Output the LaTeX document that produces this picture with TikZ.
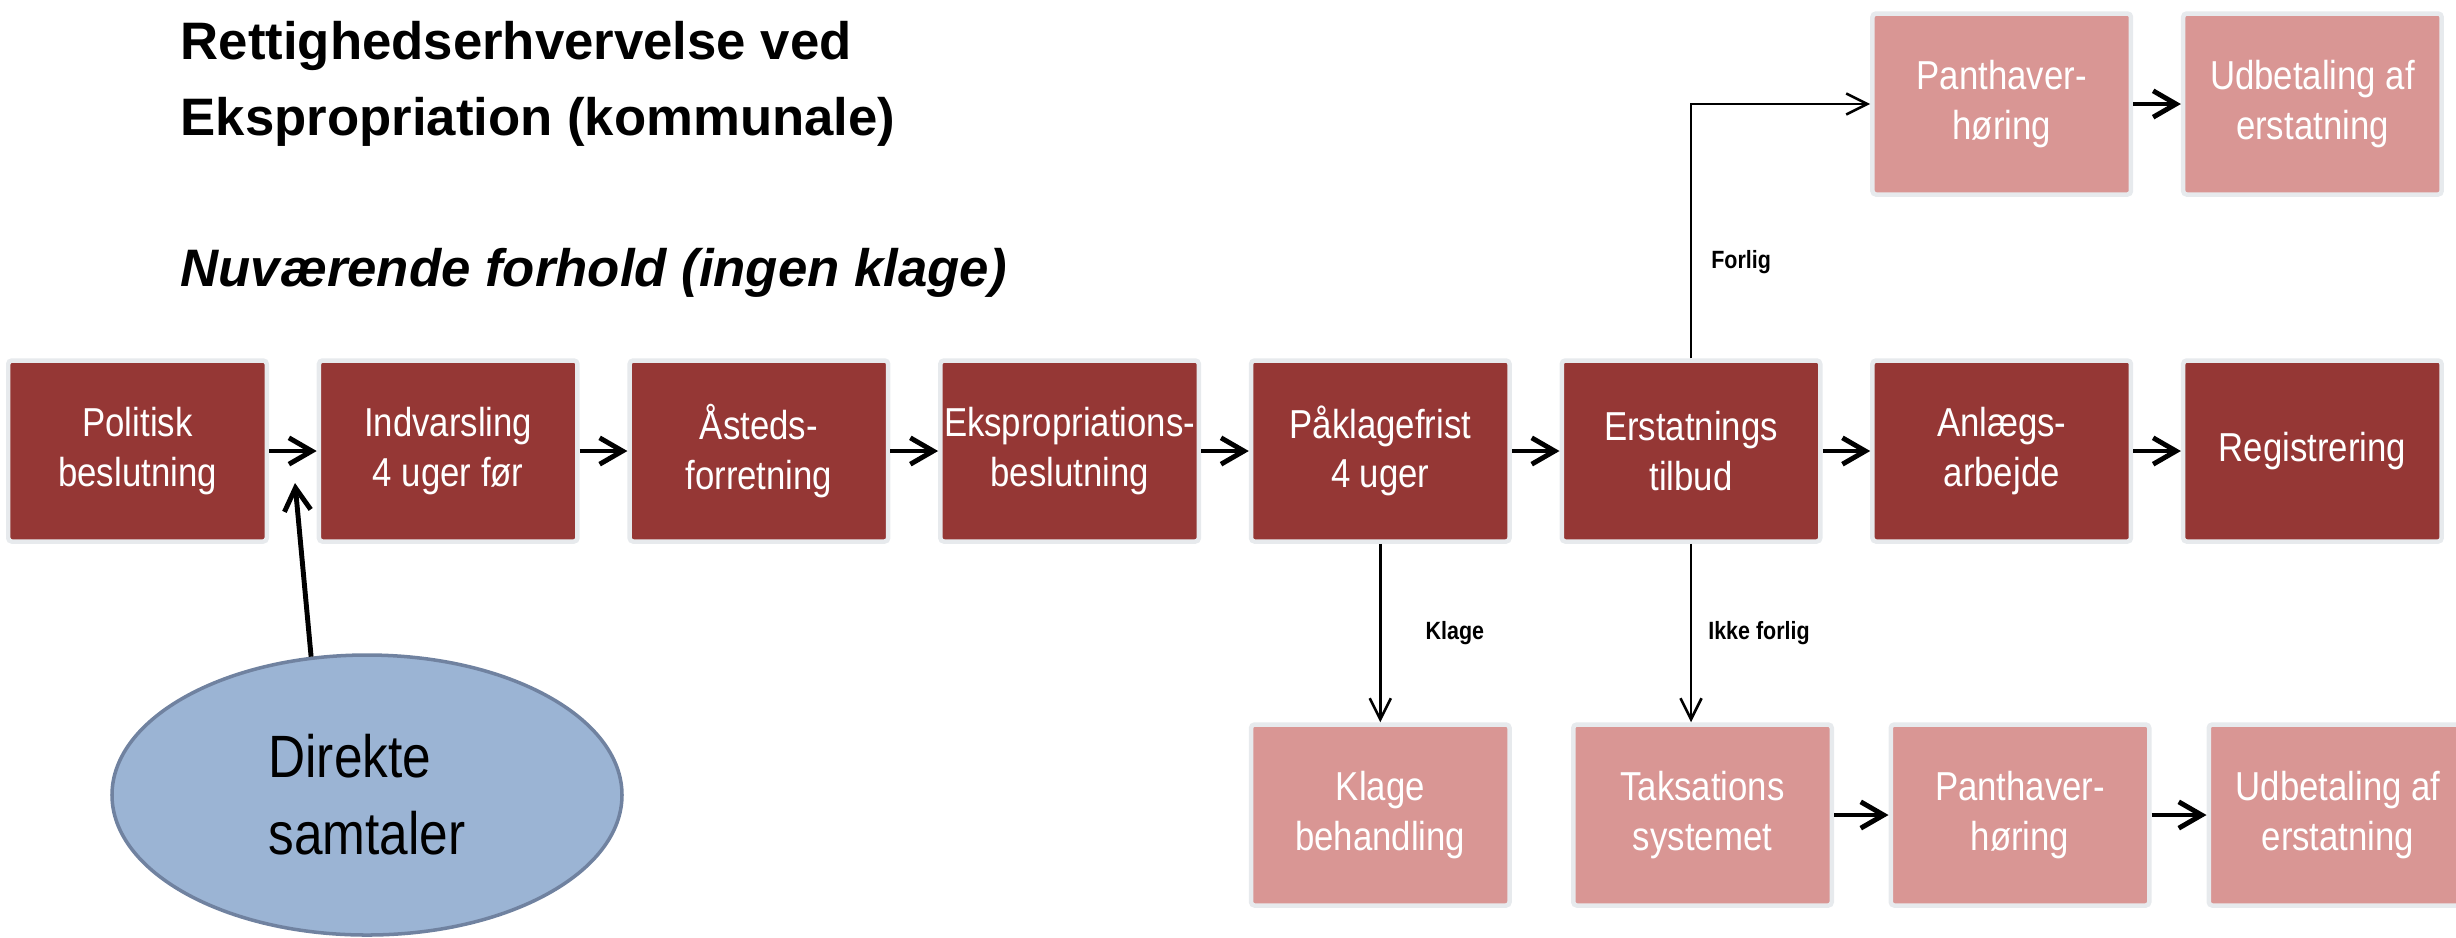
\documentclass[tikz,border=0pt]{standalone}
\usepackage{fontspec}
\setmainfont{Liberation Sans}
\newfontfamily\smalfont[FakeStretch=0.86]{Liberation Sans}
\usepackage{tikz}
\usetikzlibrary{shapes, arrows.meta, positioning}
\definecolor{moerkrod}{RGB}{149,55,53}
\definecolor{lyserod}{RGB}{217,150,148}
\definecolor{kant}{RGB}{231,234,237}
\definecolor{samtalefyld}{RGB}{155,180,212}
\definecolor{samtalekant}{RGB}{112,130,160}
\tikzstyle{fase} = [draw=kant, line width=1.28pt, fill=moerkrod, rectangle, rounded corners=1pt, minimum width=2.585cm, minimum height=1.81cm, inner sep=0pt, align=center, text=white, font=\smalfont\fontsize{11.5}{14.1}\selectfont]
\tikzstyle{sidefase} = [fase, fill=lyserod]
\tikzstyle{pil} = [line width=1.4pt, -{Straight Barb[length=6.5pt, width=7.5pt]}]
\tikzstyle{tyndpil} = [line width=0.75pt, -{Straight Barb[length=6pt, width=6pt]}]
\tikzstyle{etiket} = [inner sep=0pt, font=\smalfont\bfseries\fontsize{7.1}{8.5}\selectfont]
\tikzstyle{overskrift} = [inner sep=0pt, align=left, font=\bfseries\fontsize{15}{21.6}\selectfont]
\tikzstyle{samtale} = [draw=samtalekant, line width=1pt, fill=samtalefyld, ellipse, minimum width=5.1cm, minimum height=2.8cm, align=left, font=\smalfont\fontsize{17}{21.9}\selectfont]

\begin{document}
\begin{tikzpicture}[node distance=3.107cm]
    \useasboundingbox (0,0) rectangle (24.56,-9.37);
    \node[overskrift, anchor=north west] (titel) at (1.80,-0.21) {Rettighedserhvervelse ved\\Ekspropriation (kommunale)};
    \node[overskrift, anchor=base west, font=\bfseries\itshape\fontsize{15}{18}\selectfont] (undertitel) at (1.80,-2.86) {Nuværende forhold (ingen klage)};
    \node[fase] (politisk) at (1.375,-4.51) {Politisk\\beslutning};
    \node[fase, right of=politisk] (indvarsling) {Indvarsling\\4 uger før};
    \node[fase, right of=indvarsling] (aasted) {Åsteds-\\forretning};
    \node[fase, right of=aasted] (ekspropriation) {Ekspropriations-\\beslutning};
    \node[fase, right of=ekspropriation] (paaklage) {Påklagefrist\\4 uger};
    \node[fase, right of=paaklage] (erstatning) {Erstatnings\\tilbud};
    \node[fase, right of=erstatning] (anlaeg) {Anlægs-\\arbejde};
    \node[fase, right of=anlaeg] (registrering) {Registrering};
    \node[sidefase, above of=anlaeg, node distance=3.47cm] (panthaver) {Panthaver-\\høring};
    \node[sidefase, right of=panthaver] (udbetaling) {Udbetaling af\\erstatning};
    \node[sidefase, below of=paaklage, node distance=3.64cm] (klage) {Klage\\behandling};
    \node[sidefase, right of=klage, node distance=3.222cm] (taksation) {Taksations\\systemet};
    \node[sidefase, right of=taksation, node distance=3.175cm] (panthaverB) {Panthaver-\\høring};
    \node[sidefase, right of=panthaverB, node distance=3.18cm] (udbetalingB) {Udbetaling af\\erstatning};
    \node[samtale] (direkte) at (3.67,-7.95) {Direkte\\samtaler};
    \coordinate (samtalemaal) at (2.95,-4.83);
    \draw[pil] (politisk) -- (indvarsling);
    \draw[pil] (indvarsling) -- (aasted);
    \draw[pil] (aasted) -- (ekspropriation);
    \draw[pil] (ekspropriation) -- (paaklage);
    \draw[pil] (paaklage) -- (erstatning);
    \draw[pil] (erstatning) -- (anlaeg);
    \draw[pil] (anlaeg) -- (registrering);
    \draw[pil] (panthaver) -- (udbetaling);
    \draw[pil] (taksation) -- (panthaverB);
    \draw[pil] (panthaverB) -- (udbetalingB);
    \draw[pil] (direkte.112) -- (samtalemaal);
    \draw[tyndpil] (paaklage) -- node[etiket, right=0.44cm] {Klage} (klage);
    \draw[tyndpil] (erstatning.south) -- node[etiket, right=0.16cm] {Ikke forlig} (erstatning.south |- taksation.north);
    \draw[tyndpil] (erstatning) |- node[etiket, pos=0.19, right=0.19cm] {Forlig} (panthaver);
\end{tikzpicture}
\end{document}
